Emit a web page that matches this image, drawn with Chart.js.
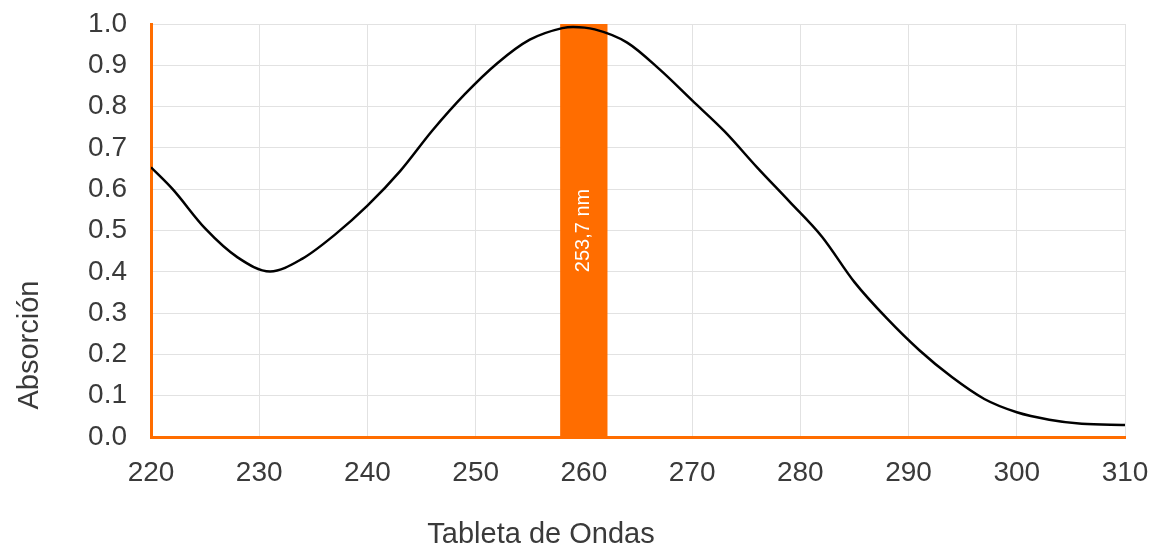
<!DOCTYPE html>
<html>
<head>
<meta charset="utf-8">
<script src="https://cdn.jsdelivr.net/npm/chart.js@4/dist/chart.umd.min.js"></script>
<style>
    body { margin: 0; background: #fff; }
    #chart { display: block; }
</style>
</head>
<body>
<canvas id="chart" width="1156" height="549"></canvas>
<script>
var wavelengths = [220, 222, 225, 228, 231, 234, 237, 240, 243, 246, 249, 252, 255, 258, 259, 261, 264, 267, 270, 273, 276, 279, 282, 285, 288, 291, 294, 297, 300, 303, 306, 310];
var absorption = [0.653, 0.60, 0.505, 0.435, 0.401, 0.432, 0.49, 0.56, 0.643, 0.742, 0.83, 0.905, 0.962, 0.99, 0.993, 0.987, 0.955, 0.89, 0.815, 0.74, 0.653, 0.57, 0.485, 0.375, 0.287, 0.21, 0.145, 0.092, 0.06, 0.042, 0.032, 0.029];
var bandRange = [257.8, 262.2];
var bandHeight = 1.0;
var bandLabel = '253,7 nm';
var xTicks = [220, 230, 240, 250, 260, 270, 280, 290, 300, 310];
var yTicks = [0, 0.1, 0.2, 0.3, 0.4, 0.5, 0.6, 0.7, 0.8, 0.9, 1.0];

var orange = '#ff6d00';
var textCol = '#3a3a3a';

Chart.defaults.font.family = '"Liberation Sans", Arial, sans-serif';
Chart.defaults.color = textCol;

var curvePoints = wavelengths.map(function(w, i) { return {x: w, y: absorption[i]}; });
var bandPoints = bandRange.map(function(w) { return {x: w, y: bandHeight}; });

var labelsPlugin = {
    id: 'labels',
    afterDatasetsDraw: function(chart) {
        var ctx = chart.ctx;
        var xs = chart.scales.x, ys = chart.scales.y;
        ctx.save();
        // band label
        ctx.fillStyle = '#fff';
        ctx.font = '20px "Liberation Sans", Arial, sans-serif';
        ctx.textAlign = 'center';
        ctx.textBaseline = 'middle';
        ctx.translate(xs.getPixelForValue((bandRange[0] + bandRange[1]) / 2), ys.getPixelForValue(0.5));
        ctx.rotate(-Math.PI / 2);
        ctx.fillText(bandLabel, 0, 0);
        ctx.restore();

        ctx.save();
        ctx.fillStyle = textCol;
        ctx.font = '29px "Liberation Sans", Arial, sans-serif';
        ctx.textAlign = 'center';
        ctx.textBaseline = 'middle';
        ctx.fillText('Tableta de Ondas', 541, 535);
        ctx.translate(30, 345);
        ctx.rotate(-Math.PI / 2);
        ctx.fillText('Absorción', 0, 0);
        ctx.restore();
    }
};

new Chart(document.getElementById('chart'), {
    type: 'line',
    data: {
        datasets: [{
            data: curvePoints,
            borderColor: '#000',
            borderWidth: 2.5,
            pointRadius: 0,
            cubicInterpolationMode: 'monotone',
            fill: false
        }, {
            data: bandPoints,
            borderWidth: 0,
            borderColor: orange,
            backgroundColor: orange,
            pointRadius: 0,
            fill: 'origin'
        }]
    },
    options: {
        responsive: false,
        animation: false,
        devicePixelRatio: 1,
        layout: { padding: { left: 0, right: 31, top: 24, bottom: 0 } },
        plugins: { legend: { display: false }, tooltip: { enabled: false } },
        scales: {
            x: {
                type: 'linear',
                min: 220,
                max: 310,
                afterBuildTicks: function(s) { s.ticks = xTicks.map(function(v) { return {value: v}; }); },
                afterFit: function(s) {
                    s.height = 112;
                    s.paddingLeft = 0;
                    s.paddingRight = 0;
                },
                ticks: { padding: 19, font: { size: 28 }, color: textCol },
                grid: { color: '#e2e2e2', lineWidth: 1, drawTicks: false },
                border: { color: orange, width: 3 }
            },
            y: {
                min: 0,
                max: 1,
                afterBuildTicks: function(s) { s.ticks = yTicks.map(function(v) { return {value: v}; }); },
                afterFit: function(s) {
                    s.width = 151;
                    s.paddingTop = 0;
                    s.paddingBottom = 0;
                },
                ticks: {
                    padding: 24,
                    font: { size: 28 },
                    color: textCol,
                    callback: function(v) { return v.toFixed(1); }
                },
                grid: { color: '#e2e2e2', lineWidth: 1, drawTicks: false },
                border: { color: orange, width: 3 }
            }
        }
    },
    plugins: [labelsPlugin]
});
</script>
</body>
</html>
